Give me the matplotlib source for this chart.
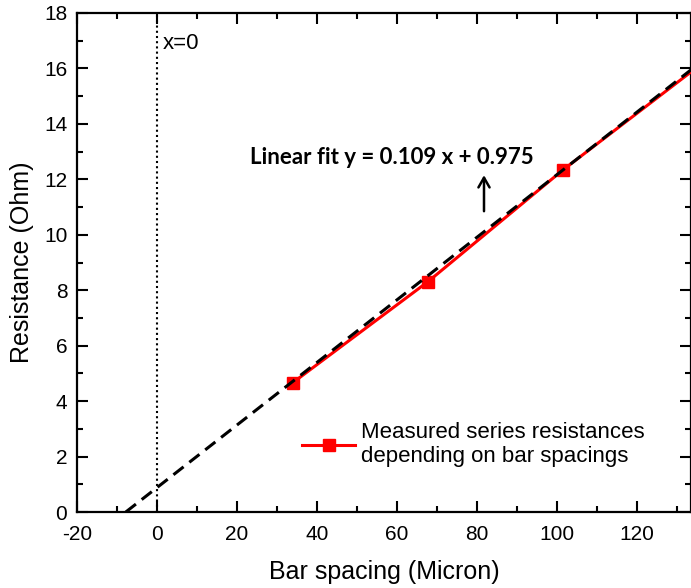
import matplotlib
matplotlib.use("Agg")
import matplotlib.pyplot as plt
from matplotlib.ticker import MultipleLocator

# Data
spacing = [34, 67.75, 101.5, 136]          # Bar spacing (Micron)
resistance = [4.67, 8.31, 12.34, 16.15]    # Resistance (Ohm)
fit_x = [-7.8, 133.5]                      # drawn fit line end points
fit_y = [0.0, 15.95]
fit_label = "Linear fit y = 0.109 x + 0.975"
legend_label = "Measured series resistances\ndepending on bar spacings"

plt.rcParams['font.family'] = ['Liberation Sans', 'DejaVu Sans']
plt.rcParams['axes.unicode_minus'] = False

W, H = 691, 588
fig = plt.figure(figsize=(W / 100, H / 100), dpi=100)
left, right, top, bottom = 77, 691, 13, 512
ax = fig.add_axes([left / W, 1 - bottom / H, (right - left) / W, (bottom - top) / H])

ax.set_xlim(-20, 133.5)
ax.set_ylim(0, 18)

# x = 0 dotted line
ax.axvline(0, color='black', linestyle=(0, (1, 1.5)), linewidth=1.5, zorder=2)
ax.text(1.5, 16.9, "x=0", fontsize=16, va='center', ha='left')

# measured data
meas, = ax.plot(spacing, resistance, color='#ff0000', linewidth=2.2, marker='s',
                markersize=8, markerfacecolor='#ff0000', markeredgecolor='#ff0000', zorder=3)
# fit line
ax.plot(fit_x, fit_y, color='black', linestyle=(0, (4.2, 2.4)), linewidth=2.2, zorder=4)

# fit annotation
ax.text(58.7, 12.8, fit_label, fontsize=16, fontweight='bold', family=['Lato', 'DejaVu Sans'],
        ha='center', va='center')
ax.annotate('', xy=(81.75, 12.25), xytext=(81.75, 10.75),
            arrowprops=dict(arrowstyle='->,head_width=0.4,head_length=0.7', color='black', lw=1.8))

leg = ax.legend([meas], [legend_label], loc='upper left', bbox_to_anchor=(302 / W, 1 - 422 / H),
                bbox_transform=fig.transFigure, frameon=False, fontsize=16, handlelength=2.4,
                handletextpad=0.25, borderpad=0, borderaxespad=0, labelspacing=0.2)

ax.set_xlabel("Bar spacing (Micron)", fontsize=18, labelpad=12)
ax.set_ylabel("Resistance (Ohm)", fontsize=18, labelpad=7)

ax.xaxis.set_major_locator(MultipleLocator(20))
ax.xaxis.set_minor_locator(MultipleLocator(10))
ax.yaxis.set_major_locator(MultipleLocator(2))
ax.yaxis.set_minor_locator(MultipleLocator(1))
ax.tick_params(which='both', direction='in', top=True, right=True, width=1.5, labelsize=15)
ax.tick_params(which='major', length=8)
ax.tick_params(which='minor', length=4.5)
ax.tick_params(axis='x', which='major', pad=9)
ax.tick_params(axis='y', which='major', pad=7)
for s in ax.spines.values():
    s.set_linewidth(1.6)

fig.savefig("out.png", dpi=100)
